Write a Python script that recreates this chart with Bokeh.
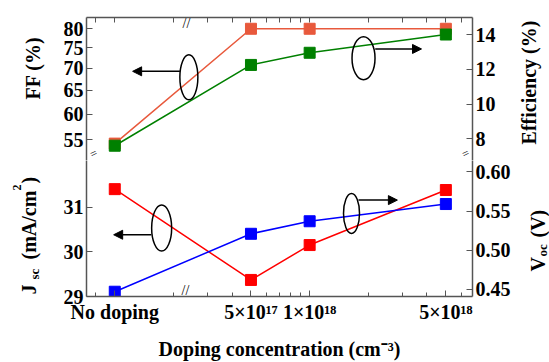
import math
from bokeh.plotting import figure
from bokeh.models import (Range1d, LinearAxis, LinearScale, FixedTicker, PrintfTickFormatter,
                          Label, Arrow, NormalHead)
from bokeh.layouts import row, column
from bokeh.embed import file_html
from bokeh.resources import INLINE

# ---------------- data ----------------
doping_pos = [1e17, 5e17, 1e18, 5e18]          # "No doping" drawn left of the axis break
doping_labels = ["No doping", "5×10¹⁷", "1×10¹⁸", "5×10¹⁸"]
ff = [54.3, 80.0, 80.0, 80.0]                  # FF (%)
eff = [7.6, 12.25, 12.95, 14.0]                # Efficiency (%)
jsc = [31.40, 29.37, 30.15, 31.38]             # Jsc (mA/cm2)
voc = [0.447, 0.521, 0.537, 0.559]             # Voc (V)

ff_ticks = [55, 60, 65, 70, 75, 80]
eff_ticks = [8, 10, 12, 14]
jsc_ticks = [29, 30, 31]
voc_ticks = [0.45, 0.50, 0.55, 0.60]
x_minor = [8e16, 2e17, 3e17, 4e17, 6e17, 7e17, 8e17, 9e17, 2e18, 3e18, 4e18, 6e18]

FONT = "Liberation Serif"
AX = "#555555"
ORANGE = "#E8593C"
GREEN = "#008000"
RED = "#FF0000"
BLUE = "#0000FF"

H_TOP, H_BOT = 160, 202
TOP_B, BOT_B = 17, 63          # top border of upper panel, bottom border of lower panel
LW, RW = 50, 34                # side strips holding the axis titles
MW = 549 - LW - RW             # main panel width
FRAME_L, FRAME_R = 86, 472     # canvas x of frame edges
ML = FRAME_L - LW
MR = (LW + MW) - FRAME_R
X0R = LW + MW                  # canvas x where right strip starts
FB_TOP = H_TOP                 # canvas y of upper frame bottom
FB_BOT = H_TOP + H_BOT - BOT_B  # canvas y of lower frame bottom

xr = Range1d(7.16e16, 6.85e18)


def style_axis(ax):
    ax.axis_line_color = AX
    ax.axis_line_width = 1.5
    ax.major_tick_line_color = AX
    ax.minor_tick_line_color = AX
    ax.major_tick_in = 6
    ax.major_tick_out = 0
    ax.minor_tick_in = 4
    ax.minor_tick_out = 0
    ax.major_label_text_font = FONT
    ax.major_label_text_font_style = "bold"
    ax.major_label_text_color = "black"
    ax.major_label_text_font_size = "20px"
    ax.major_label_standoff = 3
    ax.axis_label_text_font = FONT
    ax.axis_label_text_font_style = "bold"
    ax.axis_label_text_font_size = "20px"
    ax.axis_label_text_color = "black"


def lab(p, text, x, y, size="20px", angle=math.pi / 2, align="left", baseline="alphabetic",
        style="bold"):
    p.add_layout(Label(x=x, y=y, x_units="screen", y_units="screen", text=text, angle=angle,
                       text_align=align, text_baseline=baseline, text_font=FONT,
                       text_font_style=style, text_font_size=size, text_color="black"))


def strip(width, height, btop, bbottom):
    s = figure(width=width, height=height, x_range=Range1d(0, 1), y_range=Range1d(0, 1),
               title=None, output_backend="svg", toolbar_location=None,
               min_border_left=0, min_border_right=0,
               min_border_top=btop, min_border_bottom=bbottom)
    s.axis.visible = False
    s.grid.visible = False
    s.outline_line_color = None
    return s


# ---------------- top panel: FF / Efficiency ----------------
top = figure(width=MW, height=H_TOP, x_axis_type="log", y_axis_type="log",
             x_range=xr, y_range=Range1d(51.29, 83.1),
             x_axis_location="above", y_axis_location="left",
             output_backend="svg", toolbar_location=None,
             min_border_left=ML, min_border_right=MR, min_border_top=TOP_B,
             min_border_bottom=0)
top.extra_y_ranges = {"eff": Range1d(6.75, 14.98)}
top.extra_y_scales = {"eff": LinearScale()}
top.outline_line_color = None
top.xgrid.visible = False
top.ygrid.visible = False

# top axis: tick marks only
top.xaxis.ticker = FixedTicker(ticks=[], minor_ticks=doping_pos + x_minor)
style_axis(top.xaxis[0])
top.xaxis.minor_tick_in = 5
top.xaxis.major_label_standoff = 0

top.yaxis.ticker = FixedTicker(ticks=ff_ticks, minor_ticks=[])
top.yaxis.formatter = PrintfTickFormatter(format="%d")
style_axis(top.yaxis[0])

eff_axis = LinearAxis(y_range_name="eff", ticker=FixedTicker(ticks=eff_ticks, minor_ticks=[]))
style_axis(eff_axis)
top.add_layout(eff_axis, "right")

top.line(doping_pos, ff, line_color=ORANGE, line_width=1.5)
top.scatter(doping_pos, ff, marker="square", size=11, fill_color=ORANGE, line_color=ORANGE)
top.line(doping_pos, eff, line_color=GREEN, line_width=1.5, y_range_name="eff")
top.scatter(doping_pos, eff, marker="square", size=11, fill_color=GREEN, line_color=GREEN,
            y_range_name="eff")

top.ellipse(x=[2.4e17], y=[67.9], width=18, height=45, width_units="screen",
            height_units="screen", fill_color=None, line_color="black", line_width=1.5)
top.add_layout(Arrow(end=NormalHead(size=9, fill_color="black", line_color="black"),
                     x_start=2.16e17, y_start=69.3, x_end=1.235e17, y_end=69.3,
                     line_width=1.5, line_color="black"))
top.ellipse(x=[1.89e18], y=[12.64], width=23, height=43, width_units="screen",
            height_units="screen", fill_color=None, line_color="black", line_width=1.5,
            y_range_name="eff")
top.add_layout(Arrow(end=NormalHead(size=9, fill_color="black", line_color="black"),
                     x_start=2.17e18, y_start=13.17, x_end=3.75e18, y_end=13.17,
                     line_width=1.5, line_color="black", y_range_name="eff"))

# axis-break marks (frame-relative screen coords)
lab(top, "//", 186 - FRAME_L, H_TOP - TOP_B - 6, size="14px", angle=0, align="center",
    baseline="middle", style="normal")
lab(top, "=", 7, 7, size="12px", angle=0.45, align="center", baseline="middle",
    style="normal")
lab(top, "=", FRAME_R - FRAME_L - 7, 7, size="12px", angle=0.45, align="center",
    baseline="middle", style="normal")

# ---------------- bottom panel: Jsc / Voc ----------------
bot = figure(width=MW, height=H_BOT, x_axis_type="log",
             x_range=xr, y_range=Range1d(29.0, 32.04),
             x_axis_location="below", y_axis_location="left",
             output_backend="svg", toolbar_location=None,
             min_border_left=ML, min_border_right=MR, min_border_top=0,
             min_border_bottom=BOT_B)
bot.extra_y_ranges = {"voc": Range1d(0.4409, 0.6146)}
bot.outline_line_color = None
bot.xgrid.visible = False
bot.ygrid.visible = False

bot.xaxis.ticker = FixedTicker(ticks=doping_pos, minor_ticks=x_minor)
bot.xaxis.major_label_overrides = {v: t for v, t in zip(doping_pos, doping_labels)}
style_axis(bot.xaxis[0])
bot.xaxis.major_label_standoff = 4
bot.xaxis.axis_label = "Doping concentration (cm⁻³)"
bot.xaxis.axis_label_standoff = 12

bot.yaxis.ticker = FixedTicker(ticks=jsc_ticks, minor_ticks=[])
style_axis(bot.yaxis[0])

voc_axis = LinearAxis(y_range_name="voc", ticker=FixedTicker(ticks=voc_ticks, minor_ticks=[]))
voc_axis.formatter = PrintfTickFormatter(format="%.2f")
style_axis(voc_axis)
bot.add_layout(voc_axis, "right")

bot.line(doping_pos, jsc, line_color=RED, line_width=1.5)
bot.scatter(doping_pos, jsc, marker="square", size=11, fill_color=RED, line_color=RED)
bot.line(doping_pos, voc, line_color=BLUE, line_width=1.5, y_range_name="voc")
bot.scatter(doping_pos, voc, marker="square", size=11, fill_color=BLUE, line_color=BLUE,
            y_range_name="voc")

bot.ellipse(x=[1.74e17], y=[30.53], width=20, height=46, width_units="screen",
            height_units="screen", fill_color=None, line_color="black", line_width=1.5)
bot.add_layout(Arrow(end=NormalHead(size=9, fill_color="black", line_color="black"),
                     x_start=1.54e17, y_start=30.38, x_end=9.87e16, y_end=30.38,
                     line_width=1.5, line_color="black"))
bot.ellipse(x=[1.64e18], y=[0.547], width=16, height=40, width_units="screen",
            height_units="screen", fill_color=None, line_color="black", line_width=1.5,
            y_range_name="voc")
bot.add_layout(Arrow(end=NormalHead(size=9, fill_color="black", line_color="black"),
                     x_start=1.78e18, y_start=0.564, x_end=2.82e18, y_end=0.564,
                     line_width=1.5, line_color="black", y_range_name="voc"))

lab(bot, "//", 185 - FRAME_L, 6, size="14px", angle=0, align="center", baseline="middle",
    style="normal")

# ---------------- side strips with axis titles ----------------
# screen y inside a strip = (canvas y of its frame bottom) - (canvas y wanted)
lt = strip(LW, H_TOP, TOP_B, 0)
lab(lt, "FF (%)", 32, FB_TOP - 67.5, align="center")

rt = strip(RW, H_TOP, TOP_B, 0)
lab(rt, "Efficiency (%)", 528 - X0R, FB_TOP - 82, align="center")

lb = strip(LW, H_BOT, 0, BOT_B)
lab(lb, "J", 28, FB_BOT - 297)
lab(lb, "sc", 34, FB_BOT - 282, size="13px")
lab(lb, "(mA/cm", 28, FB_BOT - 262)
lab(lb, "2", 16, FB_BOT - 193, size="12px")
lab(lb, ")", 28, FB_BOT - 186)

rb = strip(RW, H_BOT, 0, BOT_B)
lab(rb, "V", 537 - X0R, FB_BOT - 274)
lab(rb, "oc", 542 - X0R, FB_BOT - 259, size="13px")
lab(rb, "(V)", 537 - X0R, FB_BOT - 240)

layout = column(row(lt, top, rt, spacing=0), row(lb, bot, rb, spacing=0), spacing=0)
open("out.html", "w").write(file_html(layout, INLINE))
